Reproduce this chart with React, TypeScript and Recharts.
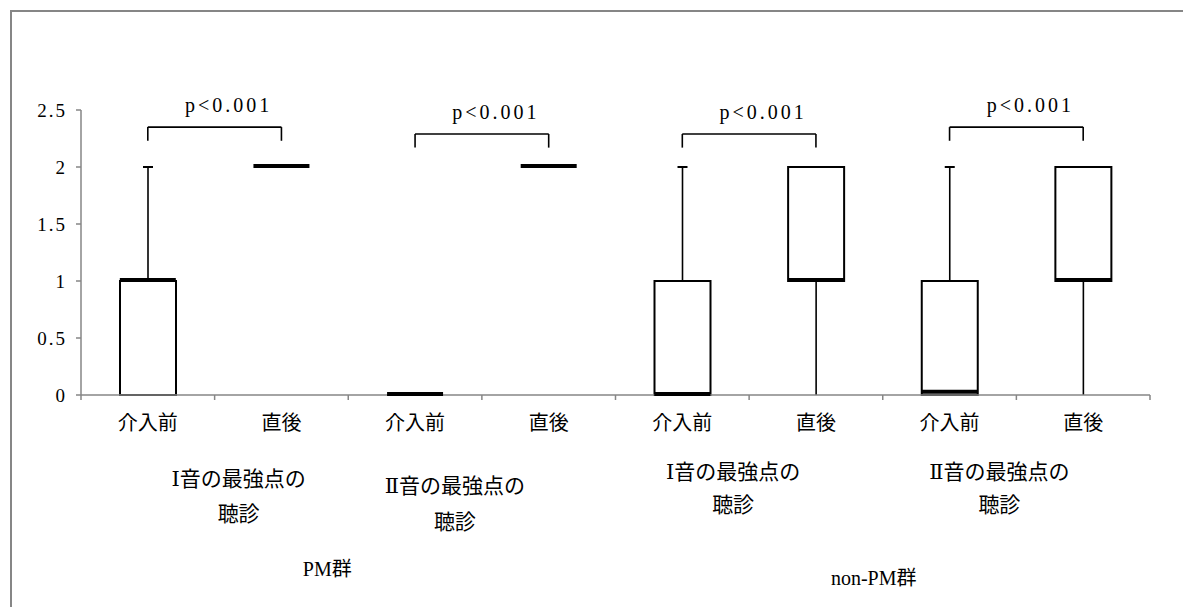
import React from "react";
import { ComposedChart, Bar, Scatter, XAxis, YAxis, ReferenceLine } from "recharts";

// one entry per box, left to right
const categoryKeys = ["pm1pre", "pm1post", "pm2pre", "pm2post", "np1pre", "np1post", "np2pre", "np2post"];
const timeLabels = ["介入前", "直後", "介入前", "直後", "介入前", "直後", "介入前", "直後"];
const minValues = [0, 2, 0, 2, 0, 0, 0, 0];
const q1Values = [0, 2, 0, 2, 0, 1, 0, 1];
const medianValues = [1, 2, 0, 2, 0, 1, 0.02, 1];
const q3Values = [1, 2, 0, 2, 1, 2, 1, 2];
const maxValues = [2, 2, 0, 2, 2, 2, 2, 2];

// second and third label rows
const soundLabels = ["Ⅰ音の最強点の", "Ⅱ音の最強点の", "Ⅰ音の最強点の", "Ⅱ音の最強点の"];
const soundLabels2 = ["聴診", "聴診", "聴診", "聴診"];
const groupLabels = ["PM群", "non-PM群"];

const yTicks = [0, 0.5, 1, 1.5, 2, 2.5];

// significance brackets
const bracketFrom = ["pm1pre", "pm2pre", "np1pre", "np2pre"];
const bracketTo = ["pm1post", "pm2post", "np1post", "np2post"];
const bracketTop = [2.35, 2.29, 2.29, 2.35];
const bracketFoot = [2.23, 2.17, 2.17, 2.23];
const pLabel = "p<0.001";

const rows = categoryKeys.map((key, i) => ({
  key,
  median: medianValues[i],
  box: [q1Values[i], q3Values[i]],
  whisker: [minValues[i], maxValues[i]],
}));

// layout
const CHART_W = 1171;
const CHART_H = 595;
const MARGIN = { top: 98, right: 33, bottom: 12, left: 0 };
const Y_W = 69;
const X_H = 200;
const PLOT_W = CHART_W - MARGIN.right - MARGIN.left - Y_W;
const BAND = PLOT_W / categoryKeys.length;
const BOX_W = 56;
const AXIS = "#868686";
const FONT = "'Liberation Serif', 'DejaVu Serif', 'Noto Sans CJK JP', serif";

// hand nudges for the lower label rows (they are not evenly placed in the original)
const SOUND_DX = [24, -27, -16, -17];
const SOUND_DY1 = [84, 91, 77, 77];
const SOUND_DY2 = [119, 127, 110, 110];
const GROUP_DX = [-21, -9];
const GROUP_DY = [174, 183];

const CategoryTick = (props: any) => {
  const { x, y, index } = props;
  const last = index === categoryKeys.length - 1;
  const pair = Math.floor(index / 2);
  const half = Math.floor(index / 4);
  return (
    <g>
      <line x1={x - BAND / 2} x2={x - BAND / 2} y1={y} y2={y + 5} stroke={AXIS} strokeWidth={1.5} />
      {last && <line x1={x + BAND / 2} x2={x + BAND / 2} y1={y} y2={y + 5} stroke={AXIS} strokeWidth={1.5} />}
      <text x={x} y={y + 28} textAnchor="middle" dominantBaseline="central" fontSize={20} fill="#000">
        {timeLabels[index]}
      </text>
      {index % 2 === 1 && (
        <>
          <text x={x - BAND / 2 + SOUND_DX[pair]} y={y + SOUND_DY1[pair]} textAnchor="middle" dominantBaseline="central" fontSize={21} fill="#000">
            {soundLabels[pair]}
          </text>
          <text x={x - BAND / 2 + SOUND_DX[pair]} y={y + SOUND_DY2[pair]} textAnchor="middle" dominantBaseline="central" fontSize={21} fill="#000">
            {soundLabels2[pair]}
          </text>
        </>
      )}
      {index % 4 === 3 && (
        <text x={x - 1.5 * BAND + GROUP_DX[half]} y={y + GROUP_DY[half]} textAnchor="middle" dominantBaseline="central" fontSize={20} fill="#000">
          {groupLabels[half]}
        </text>
      )}
    </g>
  );
};

const WhiskerShape = (props: any) => {
  const { x, y, width, height } = props;
  if (!height) return <g />;
  const cx = x + width / 2;
  const top = Math.min(y, y + height);
  const bottom = Math.max(y, y + height);
  return (
    <g>
      <line x1={cx} x2={cx} y1={top} y2={bottom} stroke="#000" strokeWidth={1.6} />
      <line x1={cx - 5} x2={cx + 5} y1={top} y2={top} stroke="#000" strokeWidth={2} />
    </g>
  );
};

const MedianShape = (props: any) => {
  const { cx, cy } = props;
  return <line x1={cx - BOX_W / 2} x2={cx + BOX_W / 2} y1={cy - 1} y2={cy - 1} stroke="#000" strokeWidth={4} />;
};

const bracketLabel = (p: any) => {
  const vb = p.viewBox;
  return (
    <text x={vb.x + vb.width / 2 + 14} y={vb.y - 22} textAnchor="middle" dominantBaseline="central" fontSize={20} letterSpacing={3} fill="#000" fontFamily={FONT}>
      {pLabel}
    </text>
  );
};

export default function App() {
  return (
    <div
      style={{
        position: "fixed",
        left: 10,
        top: 10,
        width: 1200,
        height: 620,
        border: `2px solid ${AXIS}`,
        background: "#fff",
        fontFamily: FONT,
      }}
    >
      <ComposedChart width={CHART_W} height={CHART_H} data={rows} margin={MARGIN}>
        <XAxis
          xAxisId="cat"
          dataKey="key"
          type="category"
          interval={0}
          height={X_H}
          tickSize={0}
          tickMargin={0}
          tickLine={false}
          axisLine={{ stroke: AXIS, strokeWidth: 1.5 }}
          tick={(p: any) => <CategoryTick {...p} />}
        />
        <XAxis xAxisId="w" dataKey="key" type="category" hide />
        <YAxis
          domain={[0, 2.5]}
          ticks={yTicks}
          width={Y_W}
          tickSize={5}
          tickMargin={9}
          axisLine={{ stroke: AXIS, strokeWidth: 1.5 }}
          tickLine={{ stroke: AXIS, strokeWidth: 1.5 }}
          tick={{ fill: "#000", fontSize: 19, fontFamily: FONT, letterSpacing: 2 }}
        />
        <Bar xAxisId="w" dataKey="whisker" barSize={BOX_W} shape={<WhiskerShape />} isAnimationActive={false} />
        <Bar xAxisId="cat" dataKey="box" barSize={BOX_W} fill="#fff" stroke="#000" strokeWidth={2} isAnimationActive={false} />
        <Scatter xAxisId="cat" dataKey="median" shape={<MedianShape />} isAnimationActive={false} />
        {bracketFrom.map((from, i) => (
          <React.Fragment key={from}>
            <ReferenceLine
              xAxisId="cat"
              segment={[{ x: from, y: bracketTop[i] }, { x: bracketTo[i], y: bracketTop[i] }]}
              stroke="#000"
              strokeWidth={1.6}
              label={bracketLabel}
            />
            <ReferenceLine
              xAxisId="cat"
              segment={[{ x: from, y: bracketTop[i] }, { x: from, y: bracketFoot[i] }]}
              stroke="#000"
              strokeWidth={1.6}
            />
            <ReferenceLine
              xAxisId="cat"
              segment={[{ x: bracketTo[i], y: bracketTop[i] }, { x: bracketTo[i], y: bracketFoot[i] }]}
              stroke="#000"
              strokeWidth={1.6}
            />
          </React.Fragment>
        ))}
      </ComposedChart>
    </div>
  );
}
